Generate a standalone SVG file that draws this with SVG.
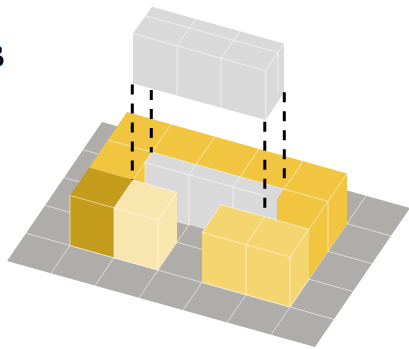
<svg xmlns="http://www.w3.org/2000/svg" width="409" height="349" viewBox="0 0 409 349">
<style>
.ln{stroke:#fff;stroke-width:.7;fill:none;stroke-opacity:.8}
.g{fill:#d9d9d9}
.y{fill:#f1c540}
.d{fill:#c49b1b}
.l{fill:#f8e6ae}
.f{fill:#f5d570}
.dash{stroke:#000;stroke-width:3;stroke-dasharray:10 9;fill:none}
text{font-family:"Liberation Serif",serif;font-size:33px;fill:#000}
</style>
<rect width="409" height="349" fill="#fff"/>
<g id="ground">
<polygon points="102,122 410,208.1 315,347.1 7,261" fill="#aeada9"/>
<path class="ln" d="M83,149.8L391,235.9M64,177.6L372,263.7M45,205.4L353,291.5M26,233.2L334,319.3M146,134.3L51,273.3M190,146.6L95,285.6M234,158.9L139,297.9M278,171.2L183,310.2M322,183.5L227,322.5M366,195.8L271,334.8"/>
</g>
<g id="yellow-u">
<polygon class="y" points="347,173.6 347,223.6 309,279.2 309,229.2"/>
<polygon class="y" points="152,152.2 133,180 133,230 152,202.2"/>
<polygon class="y" points="127,112.1 347,173.6 309,229.2 265,216.9 284,189.1 152,152.2 133,180 89,167.7"/>
<path class="ln" d="M171,124.4L152,152.2M215,136.7L196,164.5M259,149L240,176.8M303,161.3L284,189.1M108,139.9L152,152.2M284,189.1L328,201.4M347,173.6L309,229.2M328,201.4V251.4M152,152.2L133,180"/>
</g>
<g id="grey-bar">
<polygon class="g" points="152,152.2 284,189.1 277,199.4 277,249.4 145,212.5 145,162.5"/>
<path class="ln" d="M152,152.2L284,189.1M145,162.5L265,196M152,152.2L145,162.5V212.5M196,164.5L189,174.8V224.8M240,176.8L233,187.1V237.1M145,212.5L189,224.8"/>
</g>
<g id="dark-cube">
<polygon class="d" points="89,167.7 133,180 114,207.8 114,257.8 70,245.5 70,195.5"/>
<path class="ln" d="M70,195.5L114,207.8M70,195.5V245.5L114,257.8"/>
</g>
<g id="light-cube">
<polygon class="l" points="133,180 177,192.3 177,242.3 158,270.1 114,257.8 114,207.8"/>
<path class="ln" d="M133,180L177,192.3L158,220.1L114,207.8ZM158,220.1V270.1M114,207.8V257.8L158,270.1"/>
</g>
<g id="front-cubes">
<polygon class="f" points="221,204.6 309,229.2 309,279.2 290,307 202,282.4 202,232.4"/>
<path class="ln" d="M221,204.6L309,229.2L290,257L202,232.4ZM265,216.9L246,244.7V294.7M290,257V307M202,282.4L290,307L309,279.2"/>
</g>
<g id="top-block">
<polygon class="g" points="152,6.7 284,43.6 284,92.6 265.7,120 133,83.5 133,33.5"/>
<path class="ln" d="M133,33.5L265.7,70.7L284,43.6M265.7,70.7V120M177,46V96M221,58.3V108.3M196,18.6L177,46M240,31L221,58.3M145.3,15.7L278,52.5V92"/>
</g>
<g id="connectors">
<path class="dash" d="M132.3,84.5V180M151.3,90V152.5M264.8,121.7V216.7M284.3,92.3V187.3"/>
</g>
<text x="-17" y="67">B</text>
</svg>
